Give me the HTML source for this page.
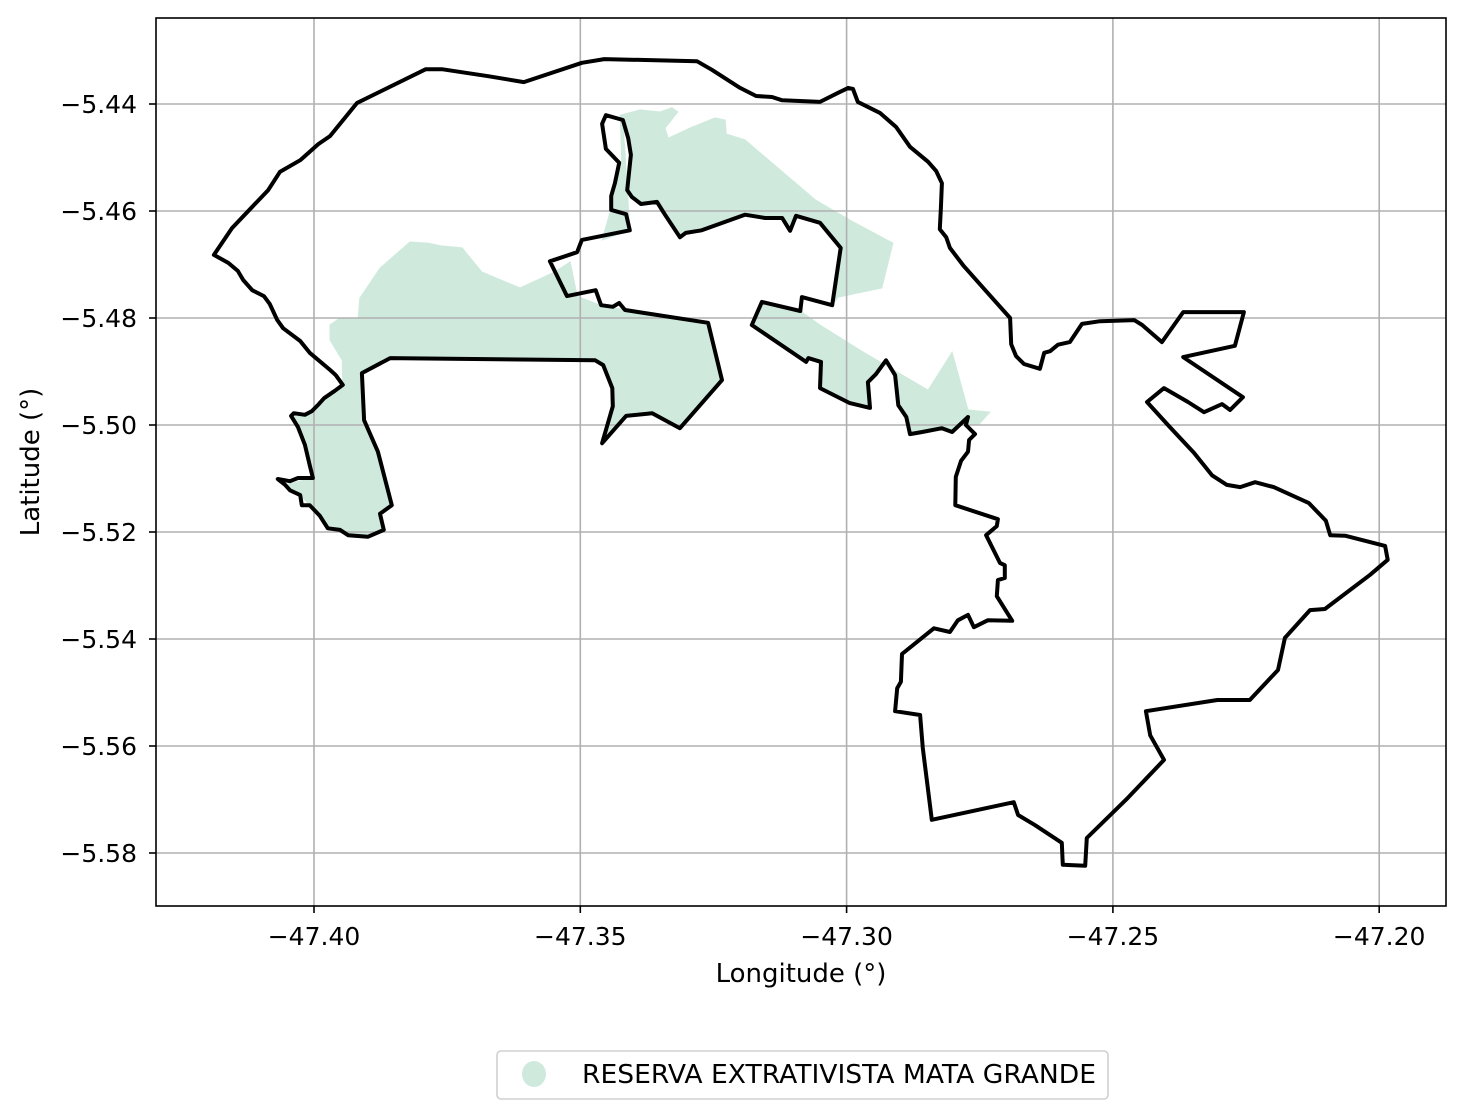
<!DOCTYPE html>
<html><head><meta charset="utf-8"><style>
html,body{margin:0;padding:0;background:#fff;}
svg{display:block;font-family:"DejaVu Sans","Liberation Sans",sans-serif;}
</style></head><body>
<svg id="chart" width="1465" height="1119" viewBox="0 0 1465 1119" xmlns="http://www.w3.org/2000/svg">
<rect x="0" y="0" width="1465" height="1119" fill="#fff"/>
<g id="green"></g>
<g id="grid"></g>
<g id="outline"></g>
<rect x="156" y="18" width="1290" height="888" fill="none" stroke="#000" stroke-width="1.6"/>
<g id="xticks"></g>
<g id="yticks"></g>
<text x="801" y="982" font-size="26" text-anchor="middle">Longitude (°)</text>
<text x="39" y="462" font-size="26" text-anchor="middle" transform="rotate(-90 39 462)">Latitude (°)</text>
<g>
<rect x="497" y="1051" width="611" height="48" rx="4" fill="#fff" stroke="#d0d0d0" stroke-width="1.6"/>
<ellipse cx="534" cy="1074" rx="12" ry="13" fill="#cfeadd"/>
<text x="582" y="1083" font-size="26" textLength="514" lengthAdjust="spacingAndGlyphs">RESERVA EXTRATIVISTA MATA GRANDE</text>
</g>
</svg>
<script>
const xTicks=[-47.40,-47.35,-47.30,-47.25,-47.20];
const xTickLabels=["−47.40","−47.35","−47.30","−47.25","−47.20"];
const yTicks=[-5.44,-5.46,-5.48,-5.50,-5.52,-5.54,-5.56,-5.58];
const yTickLabels=["−5.44","−5.46","−5.48","−5.50","−5.52","−5.54","−5.56","−5.58"];
const outlineLon=[-47.4188,-47.4154,-47.4086,-47.4064,-47.4026,-47.3992,-47.3970,-47.3919,-47.3790,-47.3760,
-47.3673,-47.3606,-47.3497,-47.3455,-47.3281,-47.3253,-47.3200,-47.3170,-47.3140,-47.3121,
-47.3050,-47.3016,-47.2997,-47.2988,-47.2979,-47.2937,-47.2907,-47.2881,-47.2847,-47.2832,
-47.2821,-47.2823,-47.2825,-47.2813,-47.2806,-47.2780,-47.2735,-47.2693,-47.2691,-47.2682,
-47.2667,-47.2637,-47.2629,-47.2618,-47.2603,-47.2581,-47.2558,-47.2524,-47.2460,-47.2445,
-47.2408,-47.2368,-47.2254,-47.2271,-47.2368,-47.2256,-47.2280,-47.2295,-47.2329,-47.2359,
-47.2404,-47.2436,-47.2393,-47.2348,-47.2314,-47.2286,-47.2261,-47.2233,-47.2198,-47.2132,
-47.2100,-47.2092,-47.2064,-47.1989,-47.1984,-47.2017,-47.2102,-47.2130,-47.2177,-47.2190,
-47.2243,-47.2304,-47.2438,-47.2430,-47.2404,-47.2472,-47.2549,-47.2552,-47.2594,-47.2596,
-47.2646,-47.2678,-47.2686,-47.2840,-47.2857,-47.2862,-47.2909,-47.2905,-47.2898,-47.2896,
-47.2836,-47.2806,-47.2791,-47.2772,-47.2761,-47.2735,-47.2689,-47.2718,-47.2716,-47.2703,
-47.2703,-47.2712,-47.2738,-47.2718,-47.2716,-47.2796,-47.2795,-47.2785,-47.2772,-47.2770,
-47.2759,-47.2776,-47.2772,-47.2802,-47.2821,-47.2858,-47.2881,-47.2888,-47.2903,-47.2909,
-47.2926,-47.2945,-47.2960,-47.2956,-47.2994,-47.3050,-47.3048,-47.3072,-47.3076,-47.3178,
-47.3159,-47.3087,-47.3084,-47.3027,-47.3011,-47.3050,-47.3095,-47.3106,-47.3121,-47.3153,
-47.3191,-47.3272,-47.3302,-47.3313,-47.3341,-47.3356,-47.3386,-47.3403,-47.3412,-47.3405,
-47.3410,-47.3420,-47.3452,-47.3459,-47.3452,-47.3427,-47.3435,-47.3442,-47.3442,-47.3414,
-47.3407,-47.3497,-47.3506,-47.3557,-47.3525,-47.3471,-47.3461,-47.3439,-47.3427,-47.3416,
-47.3260,-47.3234,-47.3313,-47.3365,-47.3414,-47.3459,-47.3439,-47.3440,-47.3457,-47.3472,
-47.3857,-47.3910,-47.3906,-47.3880,-47.3854,-47.3876,-47.3869,-47.3899,-47.3936,-47.3951,
-47.3974,-47.3989,-47.4008,-47.4023,-47.4026,-47.4045,-47.4054,-47.4068,-47.4045,-47.4030,
-47.4002,-47.4008,-47.4017,-47.4030,-47.4043,-47.4038,-47.4017,-47.4004,-47.3991,-47.3981,
-47.3961,-47.3946,-47.3959,-47.3970,-47.4008,-47.4026,-47.4058,-47.4069,-47.4083,-47.4094,
-47.4116,-47.4133,-47.4143,-47.4161];
const outlineLat=[-5.4682,-5.4632,-5.4561,-5.4527,-5.4505,-5.4475,-5.4460,-5.4398,-5.4335,-5.4335,
-5.4348,-5.4359,-5.4323,-5.4316,-5.4320,-5.4336,-5.4370,-5.4385,-5.4387,-5.4393,
-5.4396,-5.4379,-5.4370,-5.4372,-5.4396,-5.4417,-5.4443,-5.4480,-5.4508,-5.4525,
-5.4548,-5.4594,-5.4634,-5.4649,-5.4669,-5.4703,-5.4753,-5.4800,-5.4849,-5.4871,
-5.4886,-5.4895,-5.4865,-5.4862,-5.4850,-5.4845,-5.4811,-5.4806,-5.4804,-5.4813,
-5.4845,-5.4789,-5.4789,-5.4852,-5.4873,-5.4948,-5.4972,-5.4961,-5.4976,-5.4957,
-5.4931,-5.4957,-5.5004,-5.5052,-5.5094,-5.5112,-5.5116,-5.5107,-5.5116,-5.5146,
-5.5179,-5.5206,-5.5207,-5.5226,-5.5252,-5.5280,-5.5344,-5.5346,-5.5398,-5.5458,
-5.5514,-5.5514,-5.5535,-5.5580,-5.5626,-5.5697,-5.5772,-5.5824,-5.5822,-5.5781,
-5.5748,-5.5729,-5.5705,-5.5738,-5.5604,-5.5542,-5.5535,-5.5492,-5.5480,-5.5428,
-5.5380,-5.5387,-5.5365,-5.5355,-5.5378,-5.5365,-5.5366,-5.5320,-5.5290,-5.5286,
-5.5262,-5.5258,-5.5206,-5.5189,-5.5176,-5.5150,-5.5097,-5.5067,-5.5050,-5.5028,
-5.5017,-5.5000,-5.4985,-5.5013,-5.5006,-5.5013,-5.5017,-5.4985,-5.4963,-5.4907,
-5.4879,-5.4905,-5.4920,-5.4968,-5.4959,-5.4931,-5.4882,-5.4875,-5.4882,-5.4813,
-5.4770,-5.4787,-5.4761,-5.4776,-5.4669,-5.4622,-5.4609,-5.4637,-5.4613,-5.4613,
-5.4607,-5.4636,-5.4641,-5.4649,-5.4607,-5.4583,-5.4587,-5.4574,-5.4561,-5.4495,
-5.4464,-5.4430,-5.4421,-5.4437,-5.4484,-5.4510,-5.4548,-5.4572,-5.4598,-5.4606,
-5.4636,-5.4654,-5.4677,-5.4694,-5.4759,-5.4748,-5.4776,-5.4779,-5.4772,-5.4785,
-5.4809,-5.4916,-5.5006,-5.4978,-5.4983,-5.5034,-5.4965,-5.4931,-5.4888,-5.4879,
-5.4875,-5.4903,-5.4991,-5.5050,-5.5150,-5.5166,-5.5196,-5.5209,-5.5206,-5.5196,
-5.5193,-5.5170,-5.5150,-5.5150,-5.5131,-5.5122,-5.5112,-5.5101,-5.5105,-5.5099,
-5.5099,-5.5075,-5.5037,-5.5004,-5.4983,-5.4978,-5.4981,-5.4974,-5.4961,-5.4950,
-5.4936,-5.4925,-5.4907,-5.4897,-5.4865,-5.4843,-5.4819,-5.4804,-5.4774,-5.4759,
-5.4748,-5.4729,-5.4712,-5.4697];
const greenALon=[-47.3970,-47.3951,-47.3917,-47.3914,-47.3876,-47.3820,-47.3786,-47.3763,-47.3722,-47.3685,-47.3613,-47.3548,-47.3519,-47.3506,-47.3463,
-47.3416,-47.3260,-47.3234,-47.3313,-47.3365,-47.3414,-47.3459,-47.3439,-47.3440,-47.3457,-47.3472,-47.3857,-47.3910,-47.3906,-47.3880,-47.3854,-47.3876,-47.3869,-47.3899,-47.3936,-47.3974,-47.4008,-47.4026,-47.4054,-47.4002,-47.4008,-47.4017,-47.4043,-47.4017,-47.3981,-47.3946,-47.3947,-47.3970];
const greenALat=[-5.4813,-5.4800,-5.4800,-5.4763,-5.4707,-5.4658,-5.4660,-5.4665,-5.4669,-5.4714,-5.4744,-5.4714,-5.4695,-5.4759,-5.4776,
-5.4785,-5.4809,-5.4916,-5.5006,-5.4978,-5.4983,-5.5034,-5.4965,-5.4931,-5.4888,-5.4879,-5.4875,-5.4903,-5.4991,-5.5050,-5.5150,-5.5166,-5.5196,-5.5209,-5.5206,-5.5193,-5.5150,-5.5131,-5.5112,-5.5099,-5.5075,-5.5037,-5.4983,-5.4981,-5.4950,-5.4925,-5.4879,-5.4841];
const greenBLon=[-47.3459,-47.3444,-47.3435,-47.3422,-47.3425,-47.3388,-47.3350,-47.3328,-47.3317,-47.3341,-47.3335,-47.3294,-47.3247,-47.3228,-47.3226,-47.3191,-47.3125,-47.3059,-47.2994,-47.2913,-47.2934,-47.3016,
-47.3027,-47.3011,-47.3050,-47.3095,-47.3106,-47.3121,-47.3153,-47.3191,-47.3272,-47.3302,-47.3313,-47.3341,-47.3356,-47.3386,-47.3403,-47.3412,-47.3405,-47.3410,-47.3420,-47.3407];
const greenBLat=[-5.4654,-5.4602,-5.4548,-5.4514,-5.4421,-5.4411,-5.4415,-5.4407,-5.4415,-5.4445,-5.4464,-5.4445,-5.4426,-5.4430,-5.4456,-5.4467,-5.4523,-5.4579,-5.4617,-5.4660,-5.4744,-5.4761,
-5.4776,-5.4669,-5.4622,-5.4609,-5.4637,-5.4613,-5.4613,-5.4607,-5.4636,-5.4641,-5.4649,-5.4607,-5.4583,-5.4587,-5.4574,-5.4561,-5.4495,-5.4464,-5.4430,-5.4636];
const greenCLon=[-47.3159,-47.3087,-47.3050,-47.2975,-47.2847,-47.2802,-47.2772,-47.2731,-47.2753,
-47.2776,-47.2772,-47.2802,-47.2821,-47.2858,-47.2881,-47.2888,-47.2903,-47.2909,-47.2926,-47.2945,-47.2960,-47.2956,-47.2994,-47.3050,-47.3048,-47.3072,-47.3076,-47.3178];
const greenCLat=[-5.4770,-5.4787,-5.4813,-5.4860,-5.4935,-5.4864,-5.4972,-5.4976,-5.5000,
-5.5000,-5.4985,-5.5013,-5.5006,-5.5013,-5.5017,-5.4985,-5.4963,-5.4907,-5.4879,-5.4905,-5.4920,-5.4968,-5.4959,-5.4931,-5.4882,-5.4875,-5.4882,-5.4813];

const NS="http://www.w3.org/2000/svg";
const PX0=156,PX1=1446,PY0=18,PY1=906;
function xs(lon){return 314+(lon+47.40)*5326;}
function ys(lat){return 104+(-5.44-lat)*5350;}
function mk(tag,attrs,parent){const e=document.createElementNS(NS,tag);for(const k in attrs)e.setAttribute(k,attrs[k]);parent.appendChild(e);return e;}
function pathOf(lons,lats){let d="";for(let i=0;i<lons.length;i++){d+=(i?"L":"M")+xs(lons[i]).toFixed(1)+","+ys(lats[i]).toFixed(1);}return d+"Z";}

const gG=document.getElementById("green");
[[greenALon,greenALat,"reserve-area-west"],[greenBLon,greenBLat,"reserve-area-north"],[greenCLon,greenCLat,"reserve-area-east"]].forEach(function(s){
  const p=mk("path",{d:pathOf(s[0],s[1]),fill:"#cfeadd",stroke:"#cfeadd","stroke-width":"1"},gG);
  
  
});

const gGrid=document.getElementById("grid");
const gx=document.getElementById("xticks");
xTicks.forEach(function(v,i){
  const x=xs(v);
  const l=mk("line",{x1:x,x2:x,y1:PY0,y2:PY1,stroke:"#b0b0b0","stroke-width":"1.6"},gGrid);
  
  
  const t=mk("line",{x1:x,x2:x,y1:PY1,y2:PY1+7,stroke:"#000","stroke-width":"1.6"},gx);
  
  
  const tx=mk("text",{x:x,y:945,"font-size":"25","text-anchor":"middle"},gx);
  tx.textContent=xTickLabels[i];
  
  
});
const gy=document.getElementById("yticks");
yTicks.forEach(function(v,i){
  const y=ys(v);
  const l=mk("line",{x1:PX0,x2:PX1,y1:y,y2:y,stroke:"#b0b0b0","stroke-width":"1.6"},gGrid);
  
  
  const t=mk("line",{x1:PX0-7,x2:PX0,y1:y,y2:y,stroke:"#000","stroke-width":"1.6"},gy);
  
  
  const tx=mk("text",{x:137,y:y+9,"font-size":"25","text-anchor":"end"},gy);
  tx.textContent=yTickLabels[i];
  
  
});

const gO=document.getElementById("outline");
const op=mk("path",{d:pathOf(outlineLon,outlineLat),fill:"none",stroke:"#000","stroke-width":"4","stroke-linejoin":"round"},gO);


</script>
</body></html>
